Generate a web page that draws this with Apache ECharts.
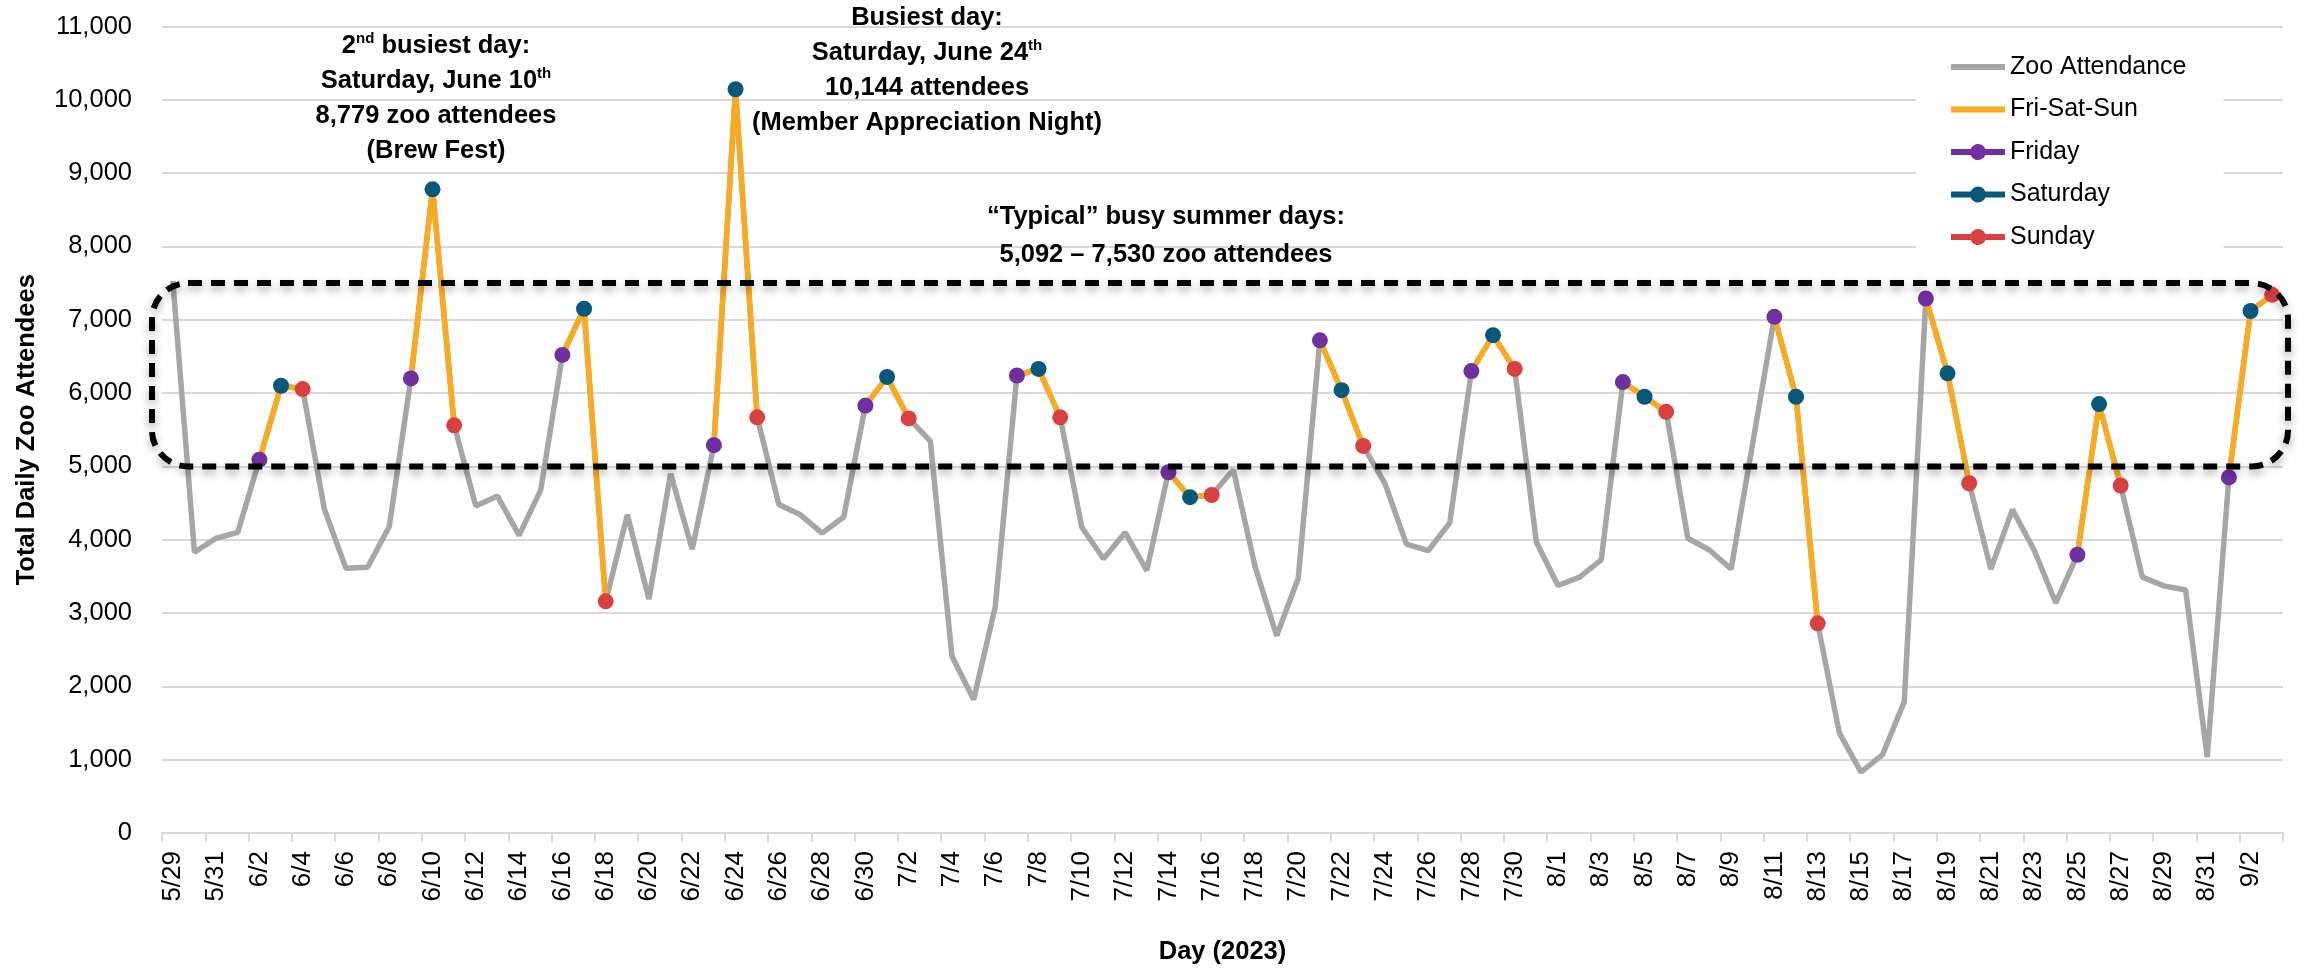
<!DOCTYPE html>
<html>
<head>
<meta charset="utf-8">
<script src="https://cdn.jsdelivr.net/npm/echarts@6/dist/echarts.min.js"></script>
<style>
  html, body { margin: 0; padding: 0; background: #ffffff; }
  #chart { width: 2305px; height: 970px; }
</style>
</head>
<body>
<div id="chart"></div>
<script>
// Days of summer 2023 (category axis)
const dates = [
  '5/29','5/30','5/31',
  '6/1','6/2','6/3','6/4','6/5','6/6','6/7','6/8','6/9','6/10',
  '6/11','6/12','6/13','6/14','6/15','6/16','6/17','6/18','6/19','6/20',
  '6/21','6/22','6/23','6/24','6/25','6/26','6/27','6/28','6/29','6/30',
  '7/1','7/2','7/3','7/4','7/5','7/6','7/7','7/8','7/9','7/10',
  '7/11','7/12','7/13','7/14','7/15','7/16','7/17','7/18','7/19','7/20',
  '7/21','7/22','7/23','7/24','7/25','7/26','7/27','7/28','7/29','7/30','7/31',
  '8/1','8/2','8/3','8/4','8/5','8/6','8/7','8/8','8/9','8/10',
  '8/11','8/12','8/13','8/14','8/15','8/16','8/17','8/18','8/19','8/20',
  '8/21','8/22','8/23','8/24','8/25','8/26','8/27','8/28','8/29','8/30','8/31',
  '9/1','9/2','9/3'
];

// Total daily zoo attendance, one value per day above
const attendance = [
  7530, 3830, 4020,
  4100, 5092, 6100, 6055, 4420, 3610, 3625, 4180, 6200, 8779,
  5560, 4460, 4595, 4060, 4680, 6520, 7150, 3160, 4340, 3190,
  4900, 3870, 5290, 10144, 5670, 4480, 4340, 4090, 4310, 5830,
  6220, 5655, 5345, 2410, 1820, 3085, 6240, 6330, 5670, 4170,
  3740, 4100, 3580, 4920, 4580, 4610, 4955, 3640, 2690, 3475,
  6720, 6040, 5280, 4770, 3940, 3850, 4230, 6300, 6790, 6330, 3970,
  3375, 3490, 3725, 6150, 5950, 5745, 4020, 3860, 3600, 5320,
  7040, 5950, 2860, 1365, 830, 1070, 1790, 7290, 6270, 4770,
  3600, 4410, 3860, 3140, 3795, 5850, 4740, 3490, 3370, 3315, 1035,
  4850, 7120, 7340
];

// Weekend days within the range
const fridays   = ['6/2','6/9','6/16','6/23','6/30','7/7','7/14','7/21','7/28','8/4','8/11','8/18','8/25','9/1'];
const saturdays = ['6/3','6/10','6/17','6/24','7/1','7/8','7/15','7/22','7/29','8/5','8/12','8/19','8/26','9/2'];
const sundays   = ['6/4','6/11','6/18','6/25','7/2','7/9','7/16','7/23','7/30','8/6','8/13','8/20','8/27','9/3'];

// Bounds of the "typical busy day" band
const typicalBand = [5000, 7500];

const seriesNames = ['Zoo Attendance', 'Fri-Sat-Sun', 'Friday', 'Saturday', 'Sunday'];

// Keep attendance only on the listed days, gaps elsewhere
function onDays(list) {
  return dates.map((d, i) => (list.includes(d) ? attendance[i] : null));
}
const weekendDays = fridays.concat(saturdays, sundays);

const FONT = "'Liberation Sans', Arial, Helvetica, sans-serif";
const GRID_COLOR = '#D9D9D9';
const COLORS = {
  total: '#A6A6A6',
  weekend: '#F9AA1E',
  fri: '#7030A0',
  sat: '#07587B',
  sun: '#D94040'
};

// Legend glyphs: a plain thick line, and a thick line with a round marker
const ICON_LINE = 'path://M0,0H54V6H0Z';
const ICON_MARKER = 'path://M0,6H19.58A8,8 0 0 1 34.42,6H54V12H34.42A8,8 0 0 1 19.58,12H0Z';

function dayMarkers(name, list, color) {
  return {
    name: name,
    type: 'line',
    data: onDays(list),
    connectNulls: false,
    symbol: 'circle',
    symbolSize: 16,
    showAllSymbol: true,
    itemStyle: { color: color },
    lineStyle: { color: color, width: 5 },
    z: 4
  };
}

const chart = echarts.init(document.getElementById('chart'), null, { renderer: 'canvas' });

chart.setOption({
  backgroundColor: '#ffffff',
  animation: false,
  grid: { left: 162, right: 22, top: 26.5, bottom: 132 },
  xAxis: {
    type: 'category',
    data: dates,
    boundaryGap: true,
    name: 'Day (2023)',
    nameLocation: 'middle',
    nameGap: 106,
    nameTextStyle: { fontFamily: FONT, fontWeight: 'bold', fontSize: 25.5, color: '#000' },
    axisLine: { lineStyle: { color: GRID_COLOR, width: 2 } },
    axisTick: { show: true, interval: 1, length: 9, lineStyle: { color: GRID_COLOR, width: 2 } },
    axisLabel: { interval: 1, rotate: 90, margin: 18, fontFamily: FONT, fontSize: 26, color: '#000' },
    splitLine: { show: false }
  },
  yAxis: {
    type: 'value',
    min: 0,
    max: 11000,
    interval: 1000,
    name: 'Total Daily Zoo Attendees',
    nameLocation: 'middle',
    nameRotate: 90,
    nameGap: 122,
    nameTextStyle: { fontFamily: FONT, fontWeight: 'bold', fontSize: 25.5, color: '#000' },
    axisLine: { show: false },
    axisTick: { show: false },
    axisLabel: {
      margin: 30,
      fontFamily: FONT,
      fontSize: 25.5,
      color: '#000',
      formatter: v => v.toLocaleString('en-US')
    },
    splitLine: { lineStyle: { color: GRID_COLOR, width: 2 } }
  },
  legend: {
    data: [
      { name: seriesNames[0], icon: ICON_LINE },
      { name: seriesNames[1], icon: ICON_LINE },
      { name: seriesNames[2], icon: ICON_MARKER },
      { name: seriesNames[3], icon: ICON_MARKER },
      { name: seriesNames[4], icon: ICON_MARKER }
    ],
    orient: 'vertical',
    left: 1916,
    top: 42,
    padding: [10, 37, 10, 35],
    backgroundColor: '#ffffff',
    itemWidth: 54,
    itemHeight: 17,
    itemGap: 12.5,
    itemTextGap: 5,
    itemStyle: { borderWidth: 0 },
    lineStyle: { width: 0 },
    textStyle: { fontFamily: FONT, fontSize: 25, color: '#000', lineHeight: 30 }
  },
  series: [
    {
      name: 'Zoo Attendance',
      type: 'line',
      data: attendance,
      symbol: 'none',
      lineStyle: { color: COLORS.total, width: 5.5 },
      itemStyle: { color: COLORS.total },
      z: 2
    },
    {
      name: 'Fri-Sat-Sun',
      type: 'line',
      data: onDays(weekendDays),
      connectNulls: false,
      symbol: 'none',
      lineStyle: { color: COLORS.weekend, width: 5.5 },
      itemStyle: { color: COLORS.weekend },
      z: 3
    },
    dayMarkers('Friday', fridays, COLORS.fri),
    dayMarkers('Saturday', saturdays, COLORS.sat),
    dayMarkers('Sunday', sundays, COLORS.sun)
  ]
});

// Dashed rounded frame around the typical band, placed through the axis scales
const x0 = chart.convertToPixel({ xAxisIndex: 0 }, 0);
const x1 = chart.convertToPixel({ xAxisIndex: 0 }, 1);
const xLast = chart.convertToPixel({ xAxisIndex: 0 }, dates.length - 1);
const halfCat = (x1 - x0) / 2;
const yTop = chart.convertToPixel({ yAxisIndex: 0 }, typicalBand[1]);
const yBottom = chart.convertToPixel({ yAxisIndex: 0 }, typicalBand[0]);
const boxLeft = x0 - halfCat - 10;
const boxRight = xLast + halfCat + 5;

const bold = { fontFamily: FONT, fontWeight: 'bold', fontSize: 25.5, fill: '#000', lineHeight: 35 };
const sup = { fontFamily: FONT, fontWeight: 'bold', fontSize: 15, fill: '#000', lineHeight: 35, verticalAlign: 'top', padding: [3, 0, 0, 0] };

chart.setOption({
  graphic: [
    {
      type: 'rect',
      z: 50,
      shape: { x: boxLeft, y: yTop, width: boxRight - boxLeft, height: yBottom - yTop, r: 36 },
      style: {
        fill: 'none',
        stroke: '#000',
        lineWidth: 6,
        lineDash: [14, 9],
        shadowBlur: 8,
        shadowOffsetY: 4,
        shadowColor: 'rgba(0,0,0,0.35)'
      }
    },
    {
      type: 'text',
      z: 60,
      x: 436,
      y: 28.5,
      style: {
        text: '{b|2}{s|nd}{b| busiest day:}\n{b|Saturday, June 10}{s|th}\n{b|8,779 zoo attendees}\n{b|(Brew Fest)}',
        align: 'center',
        verticalAlign: 'top',
        rich: { b: bold, s: sup }
      }
    },
    {
      type: 'text',
      z: 60,
      x: 927,
      y: 0.5,
      style: {
        text: '{b|Busiest day:}\n{b|Saturday, June 24}{s|th}\n{b|10,144 attendees}\n{b|(Member Appreciation Night)}',
        align: 'center',
        verticalAlign: 'top',
        rich: { b: bold, s: sup }
      }
    },
    {
      type: 'text',
      z: 60,
      x: 1166,
      y: 198,
      style: {
        text: '{b|\u201CTypical\u201D busy summer days:}\n{b|5,092 \u2013 7,530 zoo attendees}',
        align: 'center',
        verticalAlign: 'top',
        rich: { b: Object.assign({}, bold, { lineHeight: 38 }) }
      }
    }
  ]
});
</script>
</body>
</html>
